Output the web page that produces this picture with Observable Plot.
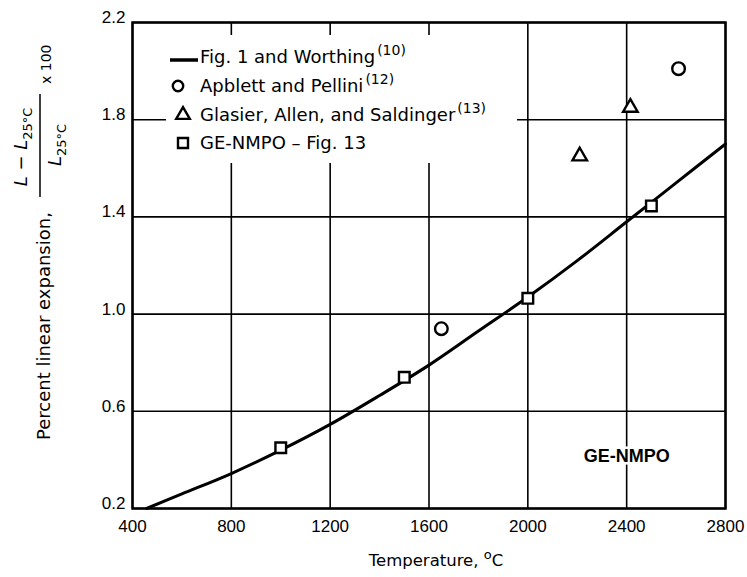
<!DOCTYPE html>
<html><head><meta charset="utf-8">
<script src="https://cdn.jsdelivr.net/npm/d3@7"></script>
<script src="https://cdn.jsdelivr.net/npm/@observablehq/plot@0.6"></script>
<style>
body{margin:0;background:#fff}
#chart{position:relative;width:747px;height:577px}
</style>
</head><body><div id="chart"></div>
<script>
// ---- data ----
const xTicks = [400, 800, 1200, 1600, 2000, 2400, 2800];
const yTicks = [0.2, 0.6, 1.0, 1.4, 1.8, 2.2];
// Fig. 1 and Worthing curve
const curveTemp = [457, 600, 800, 1000, 1200, 1400, 1600, 1800, 2000, 2200, 2400, 2600, 2800];
const curvePct  = [0.20, 0.26, 0.344, 0.44, 0.546, 0.665, 0.79, 0.93, 1.07, 1.22, 1.38, 1.54, 1.70];
// Apblett and Pellini
const apblettTemp = [1650, 2610];
const apblettPct  = [0.94, 2.01];
// Glasier, Allen, and Saldinger
const glasierTemp = [2210, 2415];
const glasierPct  = [1.65, 1.85];
// GE-NMPO - Fig. 13
const genmpoTemp = [1000, 1500, 2000, 2500];
const genmpoPct  = [0.45, 0.74, 1.065, 1.445];
// annotation
const noteTemp = [2400];
const notePct = [0.415];
const noteText = ["GE-NMPO"];

const zip = (xs, ys) => xs.map((x, i) => ({x, y: ys[i]}));
const curve = zip(curveTemp, curvePct);
const apblett = zip(apblettTemp, apblettPct);
const glasier = zip(glasierTemp, glasierPct);
const genmpo = zip(genmpoTemp, genmpoPct);
const notes = noteTemp.map((x, i) => ({x, y: notePct[i], t: noteText[i]}));

const tickFont = "Liberation Sans, Arial, sans-serif";
const textFont = "DejaVu Sans, sans-serif";

const chart = Plot.plot({
  width: 747,
  height: 577,
  marginLeft: 132,
  marginRight: 22,
  marginTop: 22,
  marginBottom: 69,
  style: {background: "white", color: "black", fontFamily: tickFont},
  x: {domain: [400, 2800]},
  y: {domain: [0.2, 2.2]},
  marks: [
    Plot.gridX(xTicks, {stroke: "black", strokeOpacity: 1, strokeWidth: 1.6}),
    Plot.gridY(yTicks, {stroke: "black", strokeOpacity: 1, strokeWidth: 1.6}),
    Plot.line(curve, {x: "x", y: "y", curve: "catmull-rom", stroke: "black", strokeWidth: 3}),
    Plot.dot(apblett, {x: "x", y: "y", symbol: "circle", r: 6.3, stroke: "black", strokeWidth: 2.4, fill: "white"}),
    Plot.dot(glasier, {x: "x", y: "y", symbol: "triangle", r: 5.4, stroke: "black", strokeWidth: 2.4, fill: "white"}),
    Plot.dot(genmpo, {x: "x", y: "y", symbol: "square", r: 6, stroke: "black", strokeWidth: 2.4, fill: "white"}),
    Plot.text(notes, {x: "x", y: "y", text: "t", fontWeight: "bold", fontSize: 18, fontFamily: tickFont, fill: "black", stroke: "white", strokeWidth: 5}),
    Plot.frame({stroke: "black", strokeWidth: 2.5}),
    Plot.axisX(xTicks, {tickSize: 0, tickPadding: 11, fontSize: 17, label: null, tickFormat: d => String(d)}),
    Plot.axisY(yTicks, {tickSize: 0, tickPadding: 7, dy: -5, fontSize: 17, label: null, tickFormat: d => d.toFixed(1)})
  ]
});

const svg = d3.select(chart);

// ---- legend (white box over the grid) ----
const lg = svg.append("g").attr("font-family", textFont).attr("font-size", 18)
  .attr("fill", "black").attr("text-anchor", "start");
lg.append("rect").attr("x", 166).attr("y", 35).attr("width", 351).attr("height", 128).attr("fill", "white");
const legendRows = [
  {kind: "line", label: "Fig. 1 and Worthing", ref: "(10)"},
  {kind: "circle", label: "Apblett and Pellini", ref: "(12)"},
  {kind: "triangle", label: "Glasier, Allen, and Saldinger", ref: "(13)"},
  {kind: "square", label: "GE-NMPO \u2013 Fig. 13", ref: ""}
];
const rowY = [57, 86, 115, 143];
legendRows.forEach((row, i) => {
  const cy = rowY[i];
  if (row.kind === "line") {
    lg.append("line").attr("x1", 170).attr("x2", 198).attr("y1", cy + 3).attr("y2", cy + 3)
      .attr("stroke", "black").attr("stroke-width", 3.5);
  } else {
    const t = {circle: d3.symbolCircle, triangle: d3.symbolTriangle, square: d3.symbolSquare}[row.kind];
    const size = {circle: 85, triangle: 80, square: 100}[row.kind];
    lg.append("path").attr("d", d3.symbol(t, size)())
      .attr("transform", `translate(${row.kind === "circle" ? 178 : 183},${cy})`)
      .attr("fill", "white").attr("stroke", "black").attr("stroke-width", 2.4);
  }
  const tx = lg.append("text").attr("x", 200).attr("y", cy + 6).attr("text-anchor", "start");
  tx.append("tspan").text(row.label);
  if (row.ref) tx.append("tspan").attr("font-size", 14).attr("dy", -8).attr("dx", 2).text(row.ref);
});

// ---- x axis title ----
const xt = svg.append("text").attr("x", 436).attr("y", 566).attr("text-anchor", "middle")
  .attr("font-family", textFont).attr("font-size", 16.5).attr("fill", "black");
xt.append("tspan").text("Temperature, ");
xt.append("tspan").attr("font-size", 13).attr("dy", -7).text("o");
xt.append("tspan").attr("dy", 7).text("C");

// ---- y axis title (rotated) ----
const yg = svg.append("g").attr("transform", "rotate(-90)").attr("font-family", textFont)
  .attr("fill", "black").attr("text-anchor", "start");
yg.append("text").attr("x", -440).attr("y", 50).attr("font-size", 18).attr("text-anchor", "start").text("Percent linear expansion,");
const num = yg.append("text").attr("x", -147).attr("y", 27).attr("text-anchor", "middle").attr("font-size", 18);
num.append("tspan").attr("font-style", "italic").text("L");
num.append("tspan").text(" \u2212 ");
num.append("tspan").attr("font-style", "italic").text("L");
num.append("tspan").attr("font-size", 13).attr("dy", 5).text("25\u00b0C");
yg.append("line").attr("x1", -197).attr("x2", -94).attr("y1", 40).attr("y2", 40).attr("stroke", "black").attr("stroke-width", 1.5);
const den = yg.append("text").attr("x", -145).attr("y", 61).attr("text-anchor", "middle").attr("font-size", 18);
den.append("tspan").attr("font-style", "italic").text("L");
den.append("tspan").attr("font-size", 13).attr("dy", 5).text("25\u00b0C");
yg.append("text").attr("x", -84).attr("y", 51).attr("font-size", 14).attr("text-anchor", "start").text("x 100");

document.getElementById("chart").append(chart);
</script>
</body></html>
